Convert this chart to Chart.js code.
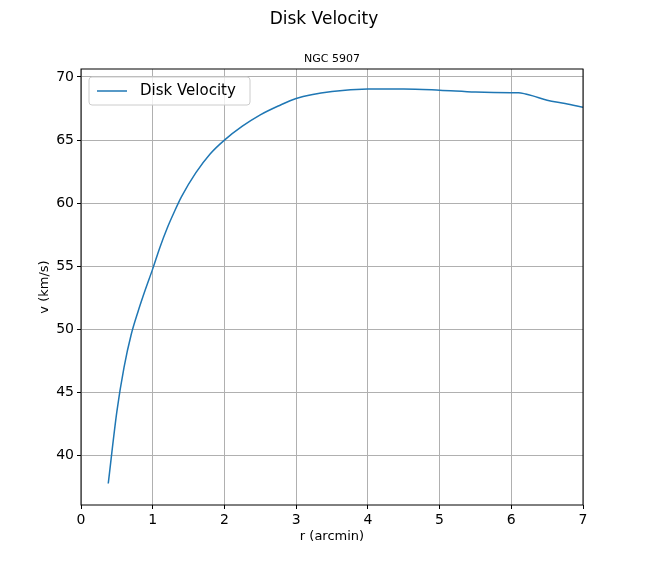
<!DOCTYPE html>
<html><head><meta charset="utf-8">
<script src="https://cdn.jsdelivr.net/npm/chart.js@4"></script>
<style>body{margin:0;background:#fff}#wrap{width:648px;height:576px}</style>
</head><body><div id="wrap"><canvas id="c"></canvas></div>
<script>
var radius = [0.38, 0.5, 0.6, 0.7, 0.8, 0.9, 1.0, 1.1, 1.2, 1.3, 1.4, 1.6, 1.8, 2.0, 2.25, 2.5, 2.75, 3.0, 3.5, 4.0, 4.5, 5.0, 5.5, 6.0, 6.1, 6.2, 6.3, 6.5, 6.75, 7.0];
var velocity = [37.8, 43.5, 47.0, 49.6, 51.5, 53.2, 54.8, 56.5, 58.0, 59.3, 60.5, 62.4, 63.9, 65.0, 66.1, 67.0, 67.7, 68.3, 68.85, 69.05, 69.05, 68.95, 68.8, 68.75, 68.75, 68.65, 68.5, 68.15, 67.9, 67.6];
var xTicks = [0, 1, 2, 3, 4, 5, 6, 7];
var yTicks = [40, 45, 50, 55, 60, 65, 70];
var blue = '#1f77b4';
var font = 'DejaVu Sans';

var deco = {
  id: 'deco',
  afterDraw: function (chart) {
    var ctx = chart.ctx, a = chart.chartArea;
    ctx.save();
    ctx.fillStyle = '#000';
    ctx.textAlign = 'center';
    ctx.textBaseline = 'middle';
    ctx.font = '17px ' + font;
    ctx.fillText('Disk Velocity', 324, 20);
    ctx.font = '11px ' + font;
    ctx.fillText('NGC 5907', (a.left + a.right) / 2, 59);
    ctx.font = '13px ' + font;
    ctx.fillText('r (arcmin)', (a.left + a.right) / 2, 537);
    ctx.save();
    ctx.translate(45, (a.top + a.bottom) / 2);
    ctx.rotate(-Math.PI / 2);
    ctx.fillText('v (km/s)', 0, 0);
    ctx.restore();
    ctx.strokeStyle = '#000';
    ctx.lineWidth = 1;
    ctx.strokeRect(a.left, a.top, a.right - a.left, a.bottom - a.top);
    // legend box
    ctx.fillStyle = 'rgba(255,255,255,0.8)';
    ctx.strokeStyle = '#ccc';
    ctx.beginPath();
    ctx.roundRect(89, 77, 161, 28, 3);
    ctx.fill(); ctx.stroke();
    ctx.strokeStyle = blue; ctx.lineWidth = 1.5;
    ctx.beginPath(); ctx.moveTo(97, 91); ctx.lineTo(127, 91); ctx.stroke();
    ctx.fillStyle = '#000'; ctx.textAlign = 'left';
    ctx.font = '15px ' + font;
    ctx.fillText('Disk Velocity', 140, 91);
    ctx.restore();
  }
};

new Chart(document.getElementById('c'), {
  type: 'line',
  data: {
    datasets: [{
      label: 'Disk Velocity',
      data: radius.map(function (r, i) { return {x: r, y: velocity[i]}; }),
      borderColor: blue, borderWidth: 1.5, pointRadius: 0, cubicInterpolationMode: 'monotone', fill: false
    }]
  },
  options: {
    responsive: true, maintainAspectRatio: false, animation: false,
    layout: {padding: {left: 0, right: 65, top: 69, bottom: 0}},
    plugins: {legend: {display: false}, title: {display: false}, tooltip: {enabled: false}},
    scales: {
      x: {
        type: 'linear', min: 0, max: 7,
        afterBuildTicks: function (s) { s.ticks = xTicks.map(function (v) { return {value: v}; }); },
        afterFit: function (s) { s.height = 71; },
        grid: {color: '#b0b0b0', tickLength: 4, tickColor: '#000'},
        border: {display: false},
        ticks: {color: '#000', font: {family: font, size: 14}, padding: 3}
      },
      y: {
        min: 36.1, max: 70.63,
        afterBuildTicks: function (s) { s.ticks = yTicks.map(function (v) { return {value: v}; }); },
        afterFit: function (s) { s.width = 81; },
        grid: {color: '#b0b0b0', tickLength: 4, tickColor: '#000'},
        border: {display: false},
        ticks: {color: '#000', font: {family: font, size: 14}, padding: 3}
      }
    }
  },
  plugins: [deco]
});
</script></body></html>
